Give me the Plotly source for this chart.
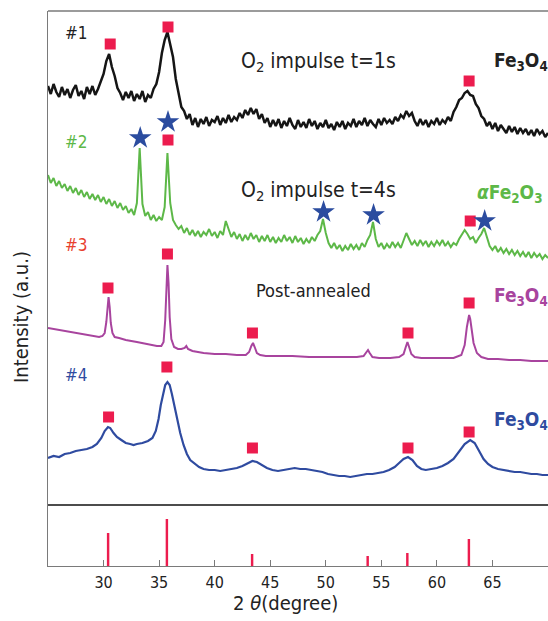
import plotly.graph_objects as go

# ---------------- data ----------------
# scans 1 and 2: sampled every 0.25 deg starting at 25 deg
SCAN_START = 25.0
SCAN_STEP = 0.25

black_I = [
    419, 411, 421, 413, 408, 418, 410, 416, 407, 415, 420, 409, 414, 406, 418, 411,
    419, 410, 416, 424, 431, 444, 451, 438, 429, 417, 412, 405, 413, 407, 414, 404,
    411, 406, 414, 403, 410, 407, 416, 421, 433, 452, 465, 473, 461, 448, 426, 413,
    398, 394, 386, 391, 380, 387, 378, 386, 381, 388, 379, 385, 383, 389, 380, 387,
    382, 390, 383, 388, 385, 392, 387, 395, 390, 397, 391, 396, 386, 391, 382, 387,
    378, 385, 379, 386, 377, 384, 379, 387, 380, 376, 385, 378, 383, 377, 386, 379,
    384, 376, 382, 378, 385, 377, 381, 375, 383, 378, 384, 376, 382, 379, 386, 378,
    384, 380, 387, 379, 385, 381, 378, 386, 380, 387, 382, 385, 381, 388, 384, 390,
    387, 394, 389, 392, 384, 379, 386, 380, 385, 378, 384, 381, 387, 380, 385, 382,
    388, 384, 393, 398, 405, 407, 412, 414, 410, 409, 401, 397, 389, 386, 379, 383,
    376, 382, 374, 380, 376, 372, 379, 373, 378, 371, 377, 372, 376, 370, 375, 369,
    376, 371, 374, 368, 372,
]

green_I = [
    330, 322, 327, 319, 324, 317, 321, 314, 319, 312, 317, 310, 315, 308, 313, 306,
    311, 305, 310, 303, 308, 301, 306, 299, 304, 297, 302, 295, 299, 292, 296, 290,
    302, 357, 301, 289, 293, 285, 290, 284, 288, 285, 298, 352, 302, 285, 280, 276,
    279, 272, 277, 270, 275, 269, 274, 268, 273, 270, 276, 269, 273, 267, 274, 270,
    284, 275, 268, 273, 266, 271, 264, 270, 265, 272, 266, 270, 263, 269, 264, 270,
    263, 268, 262, 267, 263, 270, 264, 268, 262, 269, 263, 267, 261, 266, 262, 268,
    264, 270, 274, 286, 272, 262, 257, 262, 256, 260, 254, 259, 255, 261, 256, 260,
    255, 262, 258, 265, 270, 283, 266, 258, 262, 256, 261, 257, 263, 258, 262, 257,
    264, 272, 266, 260, 264, 259, 265, 260, 264, 258, 263, 259, 264, 260, 265, 259,
    263, 258, 262, 260, 266, 270, 275, 271, 266, 268, 262, 267, 271, 277, 267, 259,
    255, 259, 253, 257, 252, 256, 251, 255, 250, 254, 249, 253, 248, 253, 247, 252,
    248, 251, 246, 250, 247,
]

# scan 3 (post-annealed), (2theta, intensity)
magenta_pts = [
    (25.0, 177), (26.0, 175), (27.0, 173), (28.0, 171), (29.0, 169), (29.6, 168),
    (29.9, 169), (30.1, 172), (30.25, 183), (30.35, 200), (30.45, 208), (30.55, 198),
    (30.65, 182), (30.8, 172), (31.0, 168), (31.4, 167), (32.0, 165), (33.0, 163),
    (34.0, 161), (34.8, 159), (35.2, 159), (35.4, 163), (35.55, 185), (35.65, 225),
    (35.75, 240), (35.85, 222), (35.95, 188), (36.1, 166), (36.35, 158), (36.7, 156),
    (37.0, 156), (37.3, 157), (37.45, 159), (37.6, 156), (38.0, 154), (39.0, 152),
    (40.0, 151), (41.0, 151), (42.0, 150), (42.8, 150), (43.1, 153), (43.3, 159),
    (43.45, 162), (43.6, 158), (43.8, 152), (44.1, 150), (44.6, 149), (45.5, 149),
    (47.0, 149), (48.5, 148), (50.0, 148), (51.5, 148), (52.8, 148), (53.4, 149),
    (53.65, 153), (53.8, 155), (53.95, 152), (54.2, 148), (54.8, 147), (55.8, 147),
    (56.6, 148), (57.0, 151), (57.2, 158), (57.35, 163), (57.5, 158), (57.7, 151),
    (58.0, 148), (58.6, 147), (59.5, 147), (60.5, 147), (61.5, 147), (62.2, 150),
    (62.5, 160), (62.7, 178), (62.8, 186), (62.9, 190), (63.0, 186), (63.1, 177),
    (63.3, 162), (63.6, 152), (64.0, 148), (64.6, 146), (65.5, 146), (66.5, 145),
    (67.5, 145), (68.5, 144), (69.5, 144), (70.0, 144),
]

# scan 4, (2theta, intensity)
blue_pts = [
    (25.0, 47), (25.5, 49), (26.0, 48), (26.5, 51), (27.0, 52), (27.5, 54), (28.0, 55),
    (28.5, 56), (29.0, 58), (29.4, 61), (29.8, 67), (30.1, 74), (30.4, 78), (30.6, 77),
    (30.9, 72), (31.2, 68), (31.6, 65), (32.0, 62), (32.4, 61), (32.7, 60), (33.0, 61),
    (33.5, 62), (34.0, 64), (34.4, 67), (34.7, 74), (34.95, 86), (35.15, 100),
    (35.35, 112), (35.55, 120), (35.75, 123), (35.95, 120), (36.15, 111), (36.4, 98),
    (36.65, 85), (36.9, 72), (37.2, 60), (37.5, 51), (37.8, 45), (38.2, 41), (38.6, 38),
    (39.0, 36), (39.5, 35), (40.0, 35), (40.5, 34), (41.0, 35), (41.5, 36), (42.0, 37),
    (42.5, 39), (43.0, 42), (43.4, 44), (43.8, 43), (44.2, 40), (44.7, 37), (45.2, 35),
    (45.7, 34), (46.2, 35), (46.7, 36), (47.2, 37), (47.7, 36), (48.2, 36), (48.7, 35),
    (49.2, 34), (49.7, 33), (50.2, 31), (50.7, 30), (51.2, 29), (51.7, 29), (52.2, 28),
    (52.7, 29), (53.2, 30), (53.7, 31), (54.2, 31), (54.7, 32), (55.2, 33), (55.7, 35),
    (56.2, 38), (56.6, 42), (57.0, 46), (57.4, 48), (57.8, 45), (58.2, 39), (58.6, 36),
    (59.0, 35), (59.5, 36), (60.0, 37), (60.5, 39), (61.0, 42), (61.5, 46), (62.0, 53),
    (62.5, 61), (63.0, 65), (63.4, 62), (63.8, 54), (64.2, 46), (64.6, 41), (65.0, 38),
    (65.5, 36), (66.0, 35), (66.5, 34), (67.0, 33), (67.5, 33), (68.0, 32), (68.5, 31),
    (69.0, 31), (69.5, 30), (70.0, 30),
]

# reference Fe3O4 lines (lower panel)
ref_2theta = [30.41, 35.70, 43.37, 53.77, 57.34, 62.88]
ref_height = [33, 47, 12, 10, 13, 27]

# phase markers
sq1_x = [30.6, 35.8, 62.9];               sq1_y = [461, 478, 424]
st2_x = [33.3, 35.8, 49.8, 54.3, 64.3];   st2_y = [367, 383, 293, 290, 284]
sq2_x = [35.8, 63.0];                     sq2_y = [365, 284]
sq3_x = [30.4, 35.75, 43.4, 57.4, 62.9];  sq3_y = [217, 251, 172, 172, 202]
sq4_x = [30.45, 35.7, 43.4, 57.4, 62.9];  sq4_y = [88, 138, 57, 57, 73]

x_ticks = [30, 35, 40, 45, 50, 55, 60, 65]

# ---------------- styling ----------------
FONT = "Liberation Sans Narrow, DejaVu Sans Condensed, Arial Narrow, Liberation Sans, sans-serif"
C_BLACK = "#151515"
C_GREEN = "#5DB848"
C_MAG = "#A8449E"
C_BLUE = "#2F4BA0"
C_RED = "#EC1C4E"
C_STAR = "#2B4C9F"
C_AX = "#7a7a7a"
C_TXT = "#222222"

W, H = 548, 621
ML, MR, MT, MB = 48, 0, 11, 55
PW, PH = W - ML - MR, H - MT - MB
SPLIT = (566 - 505) / PH


def xp(px):
    return (px - ML) / PW


def yp(py):
    return (H - MB - py) / PH


scan_x = [SCAN_START + SCAN_STEP * i for i in range(len(black_I))]
scan_x2 = [SCAN_START + SCAN_STEP * i for i in range(len(green_I))]

fig = go.Figure()
fig.add_trace(go.Scatter(x=scan_x, y=black_I, mode="lines", line=dict(color=C_BLACK, width=2.5),
                         xaxis="x2", yaxis="y", hoverinfo="skip"))
fig.add_trace(go.Scatter(x=scan_x2, y=green_I, mode="lines", line=dict(color=C_GREEN, width=2.0),
                         xaxis="x2", yaxis="y", hoverinfo="skip"))
fig.add_trace(go.Scatter(x=[p[0] for p in magenta_pts], y=[p[1] for p in magenta_pts], mode="lines",
                         line=dict(color=C_MAG, width=2), xaxis="x2", yaxis="y", hoverinfo="skip"))
fig.add_trace(go.Scatter(x=[p[0] for p in blue_pts], y=[p[1] for p in blue_pts], mode="lines",
                         line=dict(color=C_BLUE, width=2.2), xaxis="x2", yaxis="y", hoverinfo="skip"))

sq_x = sq1_x + sq2_x + sq3_x + sq4_x
sq_y = sq1_y + sq2_y + sq3_y + sq4_y
fig.add_trace(go.Scatter(x=sq_x, y=sq_y, mode="markers",
                         marker=dict(symbol="square", size=11, color=C_RED, line=dict(width=0)),
                         xaxis="x2", yaxis="y", cliponaxis=False, hoverinfo="skip"))
fig.add_trace(go.Scatter(x=st2_x, y=st2_y, mode="markers",
                         marker=dict(symbol="star", size=17, color=C_STAR, line=dict(width=0)),
                         xaxis="x2", yaxis="y", cliponaxis=False, hoverinfo="skip"))

fig.add_trace(go.Bar(x=ref_2theta, y=ref_height, width=0.22, marker=dict(color=C_RED, line=dict(width=0)),
                     xaxis="x", yaxis="y2", hoverinfo="skip"))

ann = []


def text(px, py, s, size, color, xanchor="left", angle=0):
    ann.append(dict(x=xp(px), y=yp(py), xref="paper", yref="paper", text=s, showarrow=False,
                    xanchor=xanchor, yanchor="middle", textangle=angle,
                    font=dict(family=FONT, size=size, color=color)))


text(63, 33, "#1", 17, C_TXT)
text(63, 142, "#2", 17, C_GREEN)
text(63, 245, "#3", 17, "#E8402E")
text(63, 375, "#4", 17, C_BLUE)
text(318, 62, "O<sub>2</sub> impulse t=1s", 21, C_TXT, "center")
text(318, 191, "O<sub>2</sub> impulse t=4s", 21, C_TXT, "center")
text(313, 290, "Post-annealed", 18, C_TXT, "center")
text(492, 62, "<b>Fe<sub>3</sub>O<sub>4</sub></b>", 19, C_TXT)
text(475, 193, "<b><i>α</i>Fe<sub>2</sub>O<sub>3</sub></b>", 19, C_GREEN)
text(492, 296, "<b>Fe<sub>3</sub>O<sub>4</sub></b>", 19, C_MAG)
text(492, 420, "<b>Fe<sub>3</sub>O<sub>4</sub></b>", 19, C_BLUE)
text(21, 317, "Intensity (a.u.)", 20, C_TXT, "center", -90)
text(285, 603, "2 <i>θ</i>(degree)", 20, C_TXT, "center")

shapes = [
    dict(type="line", xref="paper", yref="paper", x0=0, x1=1, y0=1, y1=1,
         line=dict(color=C_AX, width=1.3)),
    dict(type="line", xref="paper", yref="paper", x0=0, x1=1, y0=SPLIT, y1=SPLIT,
         line=dict(color="#111111", width=1.6)),
]

fig.update_layout(
    width=W, height=H,
    margin=dict(l=ML, r=MR, t=MT, b=MB),
    paper_bgcolor="white", plot_bgcolor="white",
    showlegend=False,
    font=dict(family=FONT, color=C_TXT),
    xaxis=dict(domain=[0, 1], anchor="y2", range=[25, 70], tickmode="array", tickvals=x_ticks,
               ticks="inside", ticklen=6, tickwidth=1.2, tickcolor=C_AX, ticklabelstandoff=2,
               showline=True, linecolor=C_AX, linewidth=1.3, showgrid=False, zeroline=False,
               tickfont=dict(family=FONT, size=16, color=C_TXT)),
    xaxis2=dict(domain=[0, 1], anchor="y", matches="x", range=[25, 70], showticklabels=False,
                ticks="", showline=False, showgrid=False, zeroline=False),
    yaxis=dict(domain=[SPLIT, 1], range=[0, 494], showticklabels=False, ticks="", showgrid=False,
               zeroline=False, showline=True, linecolor=C_AX, linewidth=1.3),
    yaxis2=dict(domain=[0, SPLIT], range=[0, 61], showticklabels=False, ticks="", showgrid=False,
                zeroline=False, showline=True, linecolor=C_AX, linewidth=1.3),
    annotations=ann,
    shapes=shapes,
)

fig.write_html("out.html", config={"displayModeBar": False},
               post_script="document.body.style.margin='0';document.body.style.overflow='hidden';")
